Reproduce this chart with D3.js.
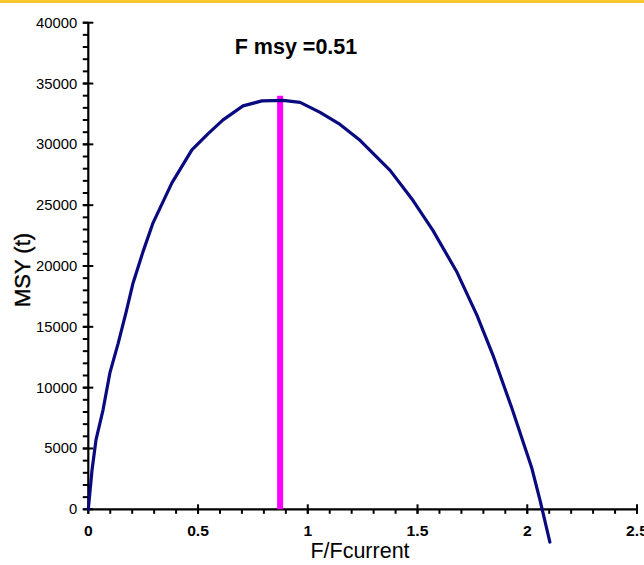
<!DOCTYPE html>
<html>
<head>
<meta charset="utf-8">
<script src="https://cdn.jsdelivr.net/npm/d3@7/dist/d3.min.js"></script>
<style>
  html, body { margin: 0; padding: 0; background: #fff; }
  svg { display: block; }
  text { font-family: "Liberation Sans", Arial, sans-serif; fill: #000; }
</style>
</head>
<body>
<svg id="chart" width="644" height="565"></svg>
<script>
// ---- data ----
const fRatio = [0, 0.017, 0.035, 0.067, 0.099, 0.136, 0.172, 0.204, 0.249, 0.295, 0.381, 0.472, 0.545, 0.614, 0.705, 0.791, 0.887, 0.965, 1.056, 1.147, 1.238, 1.375, 1.479, 1.57, 1.68, 1.771, 1.844, 1.93, 2.021, 2.058, 2.103];
const msy    = [0, 3230, 5700, 8160, 11260, 13640, 16190, 18610, 21160, 23550, 26830, 29550, 30860, 32010, 33160, 33570, 33610, 33450, 32630, 31640, 30330, 27860, 25400, 22930, 19480, 15940, 12660, 8310, 3370, 760, -2690];
const fmsyX = [0.874];
const fmsyTop = [34000];
const xTickValues = [0, 0.5, 1, 1.5, 2, 2.5];
const xTickLabels = ["0", "0.5", "1", "1.5", "2", "2.5"];
const yTickValues = [0, 5000, 10000, 15000, 20000, 25000, 30000, 35000, 40000];
const yTickLabels = ["0", "5000", "10000", "15000", "20000", "25000", "30000", "35000", "40000"];
const titleText = "F msy =0.51";
const xTitle = "F/Fcurrent";
const yTitle = "MSY (t)";

// ---- layout ----
const svg = d3.select("#chart");
const x = d3.scaleLinear().domain([0, 2.5]).range([88.3, 637]);
const y = d3.scaleLinear().domain([0, 40000]).range([509.3, 22.7]);

// top yellow rule
svg.append("rect").attr("x", 0).attr("y", 0).attr("width", 644).attr("height", 3).attr("fill", "#fcc72c");

// minor ticks
const xMinor = d3.range(0, 2.5001, 0.1);
const yMinor = d3.range(0, 40001, 1000);
const tickG = svg.append("g").attr("stroke", "#000").attr("stroke-width", 2);
tickG.selectAll(".xm").data(xMinor).join("line")
  .attr("x1", d => x(d)).attr("x2", d => x(d)).attr("y1", y(0)).attr("y2", y(0) + 4.5);
tickG.selectAll(".ym").data(yMinor).join("line")
  .attr("y1", d => y(d)).attr("y2", d => y(d)).attr("x1", x(0) - 5.5).attr("x2", x(0));
// major ticks (crossing axis)
tickG.selectAll(".xM").data(xTickValues).join("line")
  .attr("x1", d => x(d)).attr("x2", d => x(d)).attr("y1", y(0) - 5).attr("y2", y(0) + 4.5);
tickG.selectAll(".yM").data(yTickValues).join("line")
  .attr("y1", d => y(d)).attr("y2", d => y(d)).attr("x1", x(0) - 5.5).attr("x2", x(0) + 5);

// axis lines
svg.append("line").attr("x1", x(0)).attr("x2", x(2.5)).attr("y1", y(0)).attr("y2", y(0))
  .attr("stroke", "#000").attr("stroke-width", 2.2);
svg.append("line").attr("x1", x(0)).attr("x2", x(0)).attr("y1", y(0)).attr("y2", y(40000))
  .attr("stroke", "#000").attr("stroke-width", 2.2);

// tick labels
svg.selectAll(".xl").data(xTickValues).join("text")
  .attr("transform", d => `translate(${x(d)},${y(0) + 27}) scale(1.12,1)`)
  .attr("text-anchor", "middle").attr("font-size", 14).attr("font-weight", "bold")
  .attr("fill", "#111")
  .text((d, i) => xTickLabels[i]);
svg.selectAll(".yl").data(yTickValues).join("text")
  .attr("transform", d => `translate(${x(0) - 11},${y(d) + 5}) scale(1.06,1)`)
  .attr("text-anchor", "end").attr("font-size", 14)
  .attr("fill", "#111")
  .text((d, i) => yTickLabels[i]);

// fmsy vertical line
svg.selectAll(".fm").data(fmsyX).join("line")
  .attr("x1", d => x(d)).attr("x2", d => x(d))
  .attr("y1", y(0)).attr("y2", (d, i) => y(fmsyTop[i]))
  .attr("stroke", "#ff00ff").attr("stroke-width", 6);

// curve
const pts = fRatio.map((f, i) => [f, msy[i]]);
svg.append("path").datum(pts)
  .attr("d", d3.line().x(d => x(d[0])).y(d => y(d[1])).curve(d3.curveLinear))
  .attr("fill", "none").attr("stroke", "#0a0a80").attr("stroke-width", 3.2)
  .attr("stroke-linejoin", "round").attr("stroke-linecap", "round");

// titles
svg.append("text").attr("x", 296).attr("y", 54).attr("text-anchor", "middle")
  .attr("font-size", 21.5).attr("font-weight", "bold").text(titleText);
svg.append("text").attr("x", 360).attr("y", 558).attr("text-anchor", "middle")
  .attr("font-size", 21.5).text(xTitle);
svg.append("text").attr("transform", "translate(30,270) rotate(-90)").attr("text-anchor", "middle")
  .attr("font-size", 22).attr("stroke", "#000").attr("stroke-width", 0.4).text(yTitle);
</script>
</body>
</html>
